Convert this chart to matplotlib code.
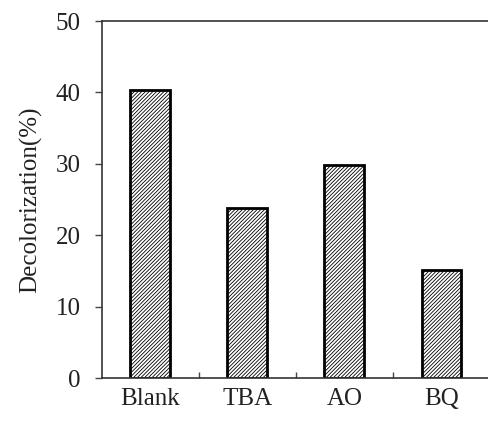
import matplotlib
matplotlib.use("Agg")
import matplotlib.pyplot as plt

categories = ["Blank", "TBA", "AO", "BQ"]
values = [40.3, 23.8, 29.8, 15.1]
yticks = [0, 10, 20, 30, 40, 50]

plt.rcParams['font.family'] = ['Liberation Serif', 'DejaVu Serif']
plt.rcParams['hatch.linewidth'] = 0.6
plt.rcParams['hatch.color'] = '#7a7a7a'

fig = plt.figure(figsize=(4.89, 4.21), dpi=100)
ax = fig.add_axes([0.208, 0.102, 0.794, 0.848])

x = list(range(len(categories)))
ax.bar(x, values, width=0.41, color='white', edgecolor='black',
       linewidth=2.0, hatch='/////////')

ax.set_xlim(-0.5, len(categories) - 0.5)
ax.set_ylim(0, 50)
ax.set_yticks(yticks)
ax.set_xticks(x)
ax.set_xticklabels(categories)
ax.set_xticks([i + 0.5 for i in x[:-1]], minor=True)
ax.tick_params(axis='x', which='major', length=0, labelsize=18, pad=7, colors='#222222')
ax.tick_params(axis='x', which='minor', direction='in', length=4, width=1, color='#444444')
ax.tick_params(axis='y', direction='out', length=5, width=1, labelsize=18, color='#444444', labelcolor='#222222', pad=10)
ax.set_ylabel('Decolorization(%)', fontsize=18, color='#222222', labelpad=10)

for s in ['left', 'bottom', 'top']:
    ax.spines[s].set_color('#333333')
    ax.spines[s].set_linewidth(1.2)
ax.spines['right'].set_visible(False)

fig.savefig('out.png', dpi=100)
